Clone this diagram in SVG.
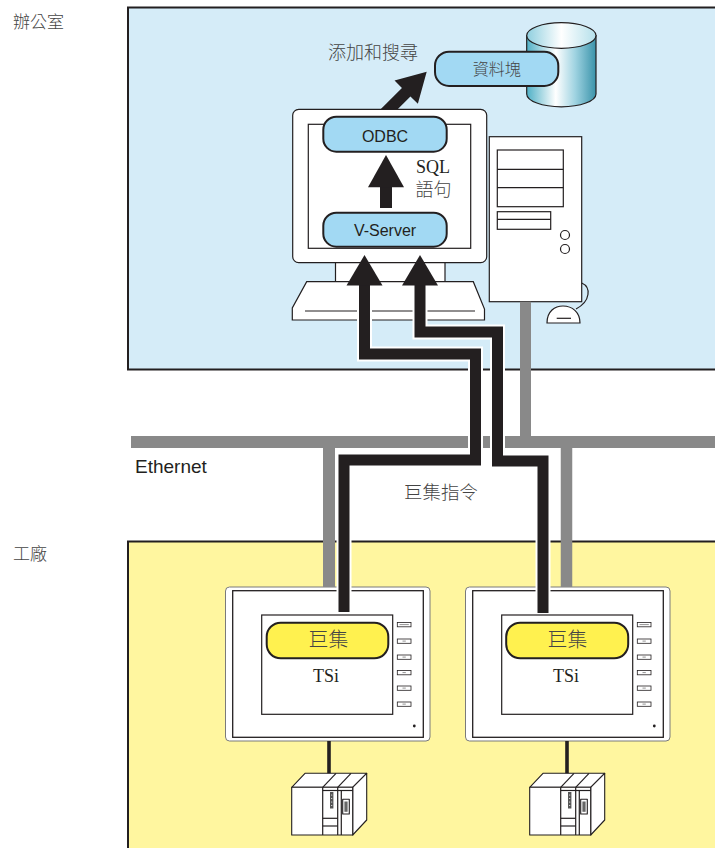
<svg xmlns="http://www.w3.org/2000/svg" width="715" height="848" viewBox="0 0 715 848">
  <style>
    .zone-label { font-family: "Liberation Sans", "Noto Sans CJK TC", sans-serif; font-size: 17px; font-weight: 300; fill: #444; }
    .cjk { font-family: "Liberation Sans", "Noto Sans CJK TC", sans-serif; font-weight: 300; fill: #444; }
    .sans { font-family: "Liberation Sans", "Noto Sans CJK TC", sans-serif; fill: #231f20; }
    .serif { font-family: "Liberation Serif", "Noto Sans CJK TC", serif; fill: #231f20; }
    .serif-cjk { font-family: "Liberation Serif", "Noto Sans CJK TC", serif; font-weight: 300; fill: #444; }
    .pill-blue { fill: #a2d9f3; stroke: #231f20; stroke-width: 2; }
    .pill-yellow { fill: #fff14f; stroke: #231f20; stroke-width: 2; }
    .outline { fill: #fff; stroke: #231f20; stroke-width: 1.2; }
    .thin { fill: none; stroke: #231f20; stroke-width: 1.2; }
    .net { stroke: #898989; fill: none; }
    .flow-halo { fill: none; stroke: #fff; stroke-width: 15; stroke-linejoin: miter; }
    .flow { fill: none; stroke: #231f20; stroke-width: 11; stroke-linejoin: miter; }
    .head { fill: #231f20; }
    .key { fill: #fff; stroke: #231f20; stroke-width: 0.8; }
    .plc { fill: #fff; stroke: #231f20; stroke-width: 1.1; stroke-linejoin: round; }
  </style>
  <defs>
    <linearGradient id="cylBody" x1="0" y1="0" x2="1" y2="0">
      <stop offset="0" stop-color="#4fb0c6"/>
      <stop offset="0.42" stop-color="#ffffff"/>
      <stop offset="0.7" stop-color="#9fd3e1"/>
      <stop offset="1" stop-color="#3a93aa"/>
    </linearGradient>
    <linearGradient id="cylTop" x1="0" y1="0" x2="1" y2="0">
      <stop offset="0" stop-color="#8fcfdf"/>
      <stop offset="0.5" stop-color="#ffffff"/>
      <stop offset="1" stop-color="#b5e0eb"/>
    </linearGradient>
    <g id="plc-unit">
      <line x1="329" y1="741" x2="329" y2="774" stroke="#231f20" stroke-width="3.6"/>
      <polygon class="plc" points="291.7,787.3 305,773.3 366.7,773.3 352.7,787.3"/>
      <polygon class="plc" points="352.7,787.3 366.7,773.3 366.7,820 352.7,835"/>
      <rect class="plc" x="291.7" y="787.3" width="61" height="47.7"/>
      <line class="thin" x1="322.7" y1="787.3" x2="336" y2="773.3"/>
      <line class="thin" x1="337.7" y1="787.3" x2="351" y2="773.3"/>
      <line class="thin" x1="322.7" y1="787.3" x2="322.7" y2="835"/>
      <line class="thin" x1="337.7" y1="787.3" x2="337.7" y2="835"/>
      <line class="thin" x1="341.3" y1="790.5" x2="341.3" y2="835"/>
      <line class="thin" x1="322.7" y1="790.5" x2="352.7" y2="790.5"/>
      <rect x="330" y="792" width="3.4" height="16.5" fill="#555"/>
      <g fill="#fff">
        <circle cx="331.7" cy="795" r="0.6"/>
        <circle cx="331.7" cy="798.5" r="0.6"/>
        <circle cx="331.7" cy="802" r="0.6"/>
        <circle cx="331.7" cy="805.5" r="0.6"/>
      </g>
      <line class="thin" x1="322.7" y1="818.3" x2="337.7" y2="818.3"/>
      <line class="thin" x1="322.7" y1="826" x2="337.7" y2="826"/>
      <rect class="plc" x="342.7" y="799.3" width="6.6" height="14.7"/>
      <rect x="344.4" y="801.5" width="3.2" height="10.3" fill="#666"/>
    </g>
    <g id="tsi-panel">
      <rect x="225.5" y="587" width="204.5" height="154" rx="4" fill="#fff" stroke="#7a7a7a" stroke-width="1"/>
      <rect x="232.7" y="590.7" width="190.6" height="146.6" fill="#fff" stroke="#231f20" stroke-width="1.3"/>
      <rect x="261.7" y="615" width="131" height="99.3" fill="#fff" stroke="#231f20" stroke-width="1.2"/>
      <rect class="key" x="397.3" y="622.5" width="13.7" height="4.3"/>
      <rect class="key" x="397.3" y="639" width="13.7" height="4.3"/>
      <rect class="key" x="397.3" y="655" width="13.7" height="4.3"/>
      <rect class="key" x="397.3" y="670.5" width="13.7" height="4.3"/>
      <rect class="key" x="397.3" y="686" width="13.7" height="4.3"/>
      <rect class="key" x="397.3" y="702" width="13.7" height="4.3"/>
      <g stroke="#777" stroke-width="0.8">
        <line x1="399.5" y1="624.6" x2="408.8" y2="624.6"/>
        <line x1="402.5" y1="641.1" x2="405.8" y2="641.1"/>
        <line x1="402.5" y1="657.1" x2="405.8" y2="657.1"/>
        <line x1="402.5" y1="672.6" x2="405.8" y2="672.6"/>
        <line x1="402.5" y1="688.1" x2="405.8" y2="688.1"/>
        <line x1="402.5" y1="704.1" x2="405.8" y2="704.1"/>
      </g>
      <circle cx="414.3" cy="726" r="1.4" fill="#231f20"/>
    </g>
  </defs>

  <!-- Zones -->
  <g id="office">
    <rect x="128" y="7.5" width="620" height="362" fill="#d5ecf8" stroke="#231f20" stroke-width="2"/>
    <text class="zone-label" x="13" y="28">辦公室</text>
  </g>
  <g id="factory">
    <rect x="128" y="541.5" width="620" height="330" fill="#fff69f" stroke="#231f20" stroke-width="2"/>
    <text class="zone-label" x="13" y="560">工廠</text>
  </g>

  <!-- Database -->
  <g id="database">
    <path d="M526.7,35.5 V94 A34.65,12.8 0 0 0 596,94 V35.5 Z" fill="url(#cylBody)" stroke="#231f20" stroke-width="1.2"/>
    <ellipse cx="561.35" cy="35.5" rx="34.65" ry="12.8" fill="url(#cylTop)" stroke="#231f20" stroke-width="1.2"/>
    <rect class="pill-blue" x="435" y="51.7" width="123.3" height="34.3" rx="14"/>
    <text class="cjk" x="496.7" y="75" font-size="16" text-anchor="middle">資料塊</text>
  </g>

  <text class="cjk" x="328" y="59" font-size="18">添加和搜尋</text>

  <!-- ODBC to database arrow -->
  <g id="odbc-arrow" transform="translate(426.7,71.7) rotate(-45)">
    <polygon class="head" points="0,0 -29,-16.5 -29,-6 -62,-6 -62,6 -29,6 -29,16.5"/>
  </g>

  <!-- Computer -->
  <g id="computer">
    <rect class="outline" x="335.5" y="262" width="109.5" height="20"/>
    <rect class="outline" x="292.7" y="109.3" width="194" height="153.4" rx="6"/>
    <rect class="outline" x="308.3" y="124.3" width="162.4" height="124" stroke-width="1.5"/>
    <polygon class="outline" points="306.7,281.7 473.3,281.7 484.5,309 484.5,320 292.3,320 292.3,308"/>
    <line class="thin" x1="305" y1="311" x2="475" y2="311"/>
    <rect class="outline" x="489.3" y="136.7" width="92.4" height="165"/>
    <rect class="outline" x="497.3" y="150" width="66" height="56.7"/>
    <line class="thin" x1="497.3" y1="169.3" x2="563.3" y2="169.3"/>
    <line class="thin" x1="497.3" y1="187.7" x2="563.3" y2="187.7"/>
    <rect class="outline" x="497.3" y="211.7" width="53.4" height="17.6"/>
    <line class="thin" x1="497.3" y1="219.3" x2="550.7" y2="219.3"/>
    <circle class="outline" cx="565" cy="235" r="4.5"/>
    <circle class="outline" cx="565" cy="249" r="4.5"/>
    <path class="thin" d="M581.7,283 C591,287 591,301 576,309"/>
    <path class="outline" d="M547,323 C547,311 555,306 563,306 C572,306 580,312 580,323 Z"/>
    <line class="thin" x1="556.7" y1="318.3" x2="571" y2="318.3"/>
  </g>

  <g id="odbc">
    <rect class="pill-blue" x="323.3" y="116.7" width="123.4" height="35" rx="13"/>
    <text class="sans" x="385" y="141.5" font-size="16" text-anchor="middle">ODBC</text>
  </g>
  <g id="vserver">
    <rect class="pill-blue" x="323.3" y="212.7" width="123.4" height="34" rx="13"/>
    <text class="sans" x="385" y="236" font-size="16" text-anchor="middle">V-Server</text>
  </g>
  <g id="sql-arrow">
    <rect class="head" x="380" y="186" width="12" height="22"/>
    <polygon class="head" points="386,155 368,187.3 404,187.3"/>
    <text class="serif" x="416" y="173" font-size="18">SQL</text>
    <text class="serif-cjk" x="415.5" y="196" font-size="18">語句</text>
  </g>

  <!-- TSi panels and PLCs -->
  <g id="tsi-1">
    <use href="#tsi-panel"/>
    <rect class="pill-yellow" x="266.7" y="622.7" width="121.6" height="35.6" rx="14"/>
    <text class="cjk" x="328.5" y="647" font-size="20" text-anchor="middle">巨集</text>
    <text class="serif" x="326" y="682" font-size="18" text-anchor="middle">TSi</text>
  </g>
  <g id="tsi-2">
    <use href="#tsi-panel" transform="translate(240,0)"/>
    <rect class="pill-yellow" x="506.2" y="622.7" width="122" height="35.6" rx="14"/>
    <text class="cjk" x="567.5" y="647" font-size="20" text-anchor="middle">巨集</text>
    <text class="serif" x="566" y="682" font-size="18" text-anchor="middle">TSi</text>
  </g>
  <g id="plc-1">
    <use href="#plc-unit"/>
  </g>
  <g id="plc-2">
    <use href="#plc-unit" transform="translate(238,0)"/>
  </g>

  <!-- Connectors -->
  <g id="connectors">
    <rect x="131" y="436" width="590" height="12" fill="#898989"/>
    <line class="net" x1="525.5" y1="301.7" x2="525.5" y2="436" stroke-width="11"/>
    <line class="net" x1="329" y1="448" x2="329" y2="587" stroke-width="12"/>
    <line class="net" x1="566.5" y1="448" x2="566.5" y2="587" stroke-width="11.5"/>

    <path class="flow-halo" d="M344,612 V460 H475.5 V354 H364.5 V286"/>
    <path class="flow-halo" d="M543,613 V461 H497.5 V332 H420 V286"/>
    <path class="flow" d="M344,612 V460 H475.5 V354 H364.5 V284"/>
    <path class="flow" d="M543,613 V461 H497.5 V332 H420 V284"/>
    <polygon class="head" points="364.5,255 346.5,285.5 382.5,285.5"/>
    <polygon class="head" points="420,255 402,285.5 438,285.5"/>

    <text class="sans" x="135" y="473" font-size="19">Ethernet</text>
    <text class="cjk" x="404" y="499" font-size="18.5">巨集指令</text>
  </g>
</svg>
